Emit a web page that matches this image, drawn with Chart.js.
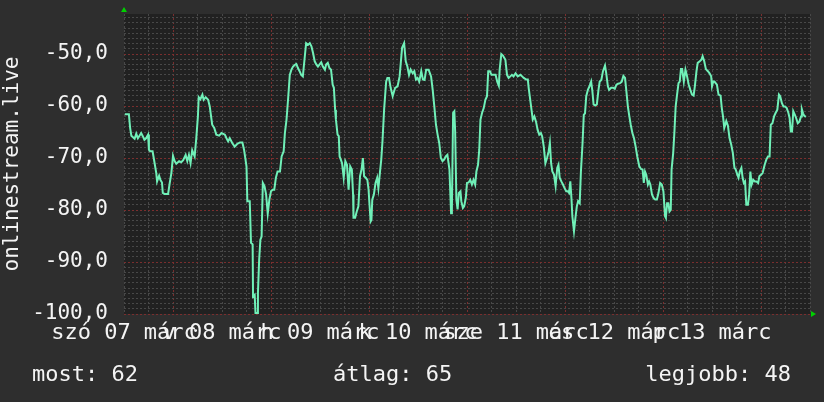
<!DOCTYPE html>
<html>
<head>
<meta charset="utf-8">
<script src="https://cdn.jsdelivr.net/npm/chart.js@4"></script>
<style>
  html, body { margin: 0; padding: 0; background: #2e2e2e; }
  #wrap { position: relative; width: 824px; height: 402px; }
  .stat { position: absolute; top: 363px; font: 22px/22px "DejaVu Sans Mono", monospace; color: #f4f4f4; white-space: pre; }
</style>
</head>
<body>
<div id="wrap">
  <canvas id="signalChart" width="824" height="402"></canvas>
  <div class="stat" id="most" style="left:32px">most: 62</div>
  <div class="stat" id="atlag" style="left:333px">átlag: 65</div>
  <div class="stat" id="legjobb" style="right:33px">legjobb: 48</div>
</div>
<script>
// hours since sat 07 márc 12:00
const hours = [
  0.2, 1.2, 1.5, 1.8, 2.2, 2.6, 3.0, 3.4, 3.8, 4.2, 4.6, 5.0, 5.4, 5.9, 6.1, 6.4, 7.0, 7.5, 7.9, 8.1,
  8.6, 8.9, 9.3, 9.5, 9.9, 10.8, 11.2, 11.6, 12.0, 12.4, 12.8, 13.5, 14.0, 14.5, 15.1, 15.5, 15.9, 16.3, 16.7, 17.3,
  17.7, 18.1, 18.3, 18.7, 19.2, 19.5, 20.0, 20.6, 21.0, 21.6, 22.1, 22.6, 23.3, 23.9, 24.7, 25.1, 25.5, 25.9, 26.5, 27.1,
  27.7, 28.4, 29.0, 29.4, 30.0, 30.2, 30.8, 31.1, 31.5, 31.6, 32.0, 32.2, 32.6, 32.8, 33.1, 33.4, 33.7, 34.0, 34.4, 34.8,
  35.2, 35.6, 36.0, 36.4, 36.8, 37.2, 37.6, 38.2, 38.6, 39.1, 39.4, 39.8, 40.2, 40.6, 41.0, 41.4, 41.8, 42.2, 42.6, 43.0,
  43.4, 43.8, 44.2, 44.6, 45.1, 45.5, 45.9, 46.3, 46.7, 47.1, 47.5, 47.9, 48.3, 48.7, 49.2, 49.5, 49.9, 50.3, 50.7, 51.1,
  51.4, 51.7, 51.9, 52.3, 52.6, 52.8, 53.1, 53.4, 53.8, 54.2, 54.6, 55.0, 55.4, 55.8, 56.1, 56.2, 56.6, 57.0, 57.4, 57.8,
  58.2, 58.5, 58.8, 59.2, 59.6, 59.9, 60.1, 60.4, 60.6, 60.8, 61.2, 61.6, 62.0, 62.3, 62.7, 63.0, 63.3, 63.7, 64.2, 64.5,
  64.9, 65.3, 65.8, 66.4, 67.0, 67.5, 68.1, 68.6, 69.0, 69.4, 69.8, 70.2, 70.7, 71.1, 71.5, 71.9, 72.3, 72.8, 73.2, 73.6,
  74.0, 74.6, 75.2, 75.6, 76.0, 76.4, 76.8, 77.2, 77.6, 78.0, 78.4, 78.8, 79.2, 79.7, 80.1, 80.3, 80.6, 80.9, 81.1, 81.4,
  81.7, 82.0, 82.4, 82.6, 83.0, 83.3, 83.7, 84.0, 84.4, 84.8, 85.2, 85.6, 86.0, 86.3, 86.7, 87.0, 87.3, 87.7, 88.1, 88.5,
  88.9, 89.2, 89.6, 90.0, 90.5, 91.0, 91.4, 91.8, 92.0, 92.4, 92.8, 93.4, 93.8, 94.2, 94.6, 95.0, 95.4, 95.9, 96.4, 97.1,
  97.5, 97.9, 98.5, 98.9, 99.1, 99.4, 99.7, 100.1, 100.5, 100.9, 101.3, 101.7, 102.1, 102.4, 102.8, 103.2, 103.6, 104.0, 104.3, 104.6,
  104.9, 105.3, 105.7, 106.1, 106.4, 106.7, 107.1, 107.5, 107.9, 108.3, 108.7, 109.0, 109.3, 109.6, 109.8, 110.2, 110.6, 110.9, 111.2, 111.6,
  111.9, 112.3, 112.6, 112.9, 113.2, 113.6, 114.0, 114.4, 114.7, 115.0, 115.4, 115.8, 116.2, 116.5, 116.9, 117.3, 117.8, 118.1, 118.5, 118.8,
  119.3, 119.8, 120.2, 120.6, 121.0, 121.5, 121.9, 122.3, 122.7, 123.0, 123.4, 123.7, 124.1, 124.5, 124.9, 125.3, 125.7, 126.2, 126.6, 127.0,
  127.3, 127.6, 127.9, 128.3, 128.6, 128.9, 129.3, 129.7, 130.1, 130.5, 130.9, 131.3, 131.7, 132.1, 132.5, 132.7, 133.0, 133.3, 133.6, 133.9,
  134.1, 134.5, 134.8, 135.1, 135.4, 135.8, 136.1, 136.4, 136.7, 137.1, 137.5, 137.9, 138.3, 138.7, 139.1, 139.5, 139.8, 140.2, 140.5, 141.0,
  141.4, 141.7, 142.1, 142.5, 143.0, 143.4, 143.8, 144.0, 144.3, 144.6, 144.9, 145.2, 145.6, 146.1, 146.4, 146.7, 147.0, 147.5, 147.9, 148.3,
  148.7, 149.1, 149.5, 149.8, 150.2, 150.5, 150.8, 151.2, 151.5, 151.8, 152.1, 152.4, 152.8, 153.1, 153.4, 153.7, 154.1, 154.5, 154.9, 155.3,
  155.6, 156.0, 156.4, 156.9, 157.3, 157.7, 158.1, 158.4, 158.8, 159.2, 159.6, 160.0, 160.4, 160.7, 161.1, 161.5, 161.9, 162.3, 162.7, 163.0,
  163.3, 163.6, 163.9, 164.3, 164.6, 165.0, 165.4, 165.8, 166.0, 166.3, 166.6, 167.0
];
const signal = [
  -61.6, -61.6, -64.2, -65.7, -66.0, -66.3, -65.3, -66.2, -65.7, -65.2, -65.8, -66.5, -66.2, -65.5, -68.4, -68.7, -68.7, -71.0, -72.9, -74.5,
  -73.4, -74.2, -74.7, -76.7, -76.9, -76.9, -74.8, -72.9, -69.6, -70.6, -71.1, -70.6, -70.8, -70.4, -69.4, -70.6, -69.4, -71.0, -68.5, -69.7,
  -66.2, -62.0, -58.3, -58.7, -57.8, -58.8, -58.3, -58.8, -60.1, -63.6, -64.2, -65.5, -65.7, -65.2, -65.5, -66.2, -66.8, -66.2, -67.1, -67.8,
  -67.3, -67.0, -67.0, -68.4, -71.6, -78.3, -78.3, -86.3, -86.6, -96.6, -96.3, -99.8, -99.8, -96.0, -89.6, -85.7, -85.1, -74.8, -75.4, -77.0,
  -80.7, -78.0, -76.4, -76.1, -76.1, -73.8, -72.6, -72.6, -69.7, -68.7, -65.2, -62.6, -58.5, -54.0, -53.0, -52.4, -52.1, -51.9, -52.7, -53.3,
  -54.0, -54.3, -51.1, -47.9, -48.2, -47.9, -48.5, -49.8, -51.4, -52.0, -52.4, -52.0, -51.6, -52.4, -53.0, -52.0, -51.7, -52.7, -53.0, -55.9,
  -56.5, -60.7, -62.6, -65.5, -65.8, -69.7, -70.3, -71.0, -73.8, -70.6, -71.3, -76.1, -71.6, -72.2, -77.0, -81.5, -81.5, -80.3, -79.3, -73.5,
  -72.1, -70.0, -73.5, -73.8, -74.2, -76.1, -78.7, -82.2, -81.9, -78.0, -77.0, -74.8, -73.8, -75.8, -72.6, -70.3, -66.8, -60.7, -55.3, -54.6,
  -54.6, -56.5, -58.1, -56.5, -56.2, -54.3, -48.8, -47.9, -51.4, -52.4, -54.0, -53.0, -53.7, -53.3, -54.9, -54.6, -55.3, -53.3, -54.9, -55.0,
  -53.0, -53.0, -54.3, -56.9, -60.1, -63.6, -65.5, -67.1, -70.0, -70.6, -70.3, -69.7, -69.4, -72.2, -80.6, -79.9, -61.3, -61.0, -64.9, -78.0,
  -79.9, -76.7, -76.4, -78.3, -79.6, -79.3, -77.7, -74.8, -74.7, -74.2, -75.1, -74.2, -75.1, -72.6, -71.3, -68.4, -62.6, -61.3, -60.4, -58.8,
  -58.1, -53.3, -53.3, -54.0, -54.0, -54.0, -55.3, -56.1, -53.0, -50.0, -50.3, -51.1, -54.0, -54.6, -54.3, -54.0, -54.3, -53.7, -54.3, -54.0,
  -54.3, -54.6, -54.9, -54.9, -56.5, -58.3, -60.1, -62.6, -62.0, -63.0, -64.6, -65.5, -65.2, -65.8, -67.8, -71.0, -70.0, -68.7, -67.1, -71.0,
  -72.6, -73.2, -75.4, -71.9, -71.3, -73.8, -74.5, -75.1, -75.8, -76.4, -76.4, -76.7, -74.5, -78.0, -81.2, -84.1, -81.2, -79.3, -78.3, -78.7,
  -72.6, -67.1, -61.7, -61.4, -58.1, -56.9, -56.2, -55.3, -57.1, -59.7, -59.9, -59.7, -56.9, -55.3, -55.0, -53.3, -52.2, -53.7, -56.2, -56.9,
  -56.5, -56.5, -56.7, -55.9, -55.7, -55.6, -55.3, -54.2, -54.6, -56.9, -60.1, -61.7, -63.6, -65.2, -66.2, -67.8, -69.7, -71.6, -72.1, -72.2,
  -74.8, -72.6, -73.2, -75.1, -74.5, -75.1, -77.0, -77.7, -78.0, -78.0, -76.7, -74.8, -75.1, -76.4, -81.2, -81.5, -78.7, -78.7, -80.3, -80.0,
  -72.2, -69.0, -64.9, -60.1, -58.1, -55.6, -55.3, -52.9, -52.9, -55.3, -53.0, -54.3, -55.9, -56.9, -57.8, -58.0, -56.2, -53.3, -51.7, -51.4,
  -51.1, -50.4, -51.4, -52.9, -53.3, -53.7, -54.3, -56.2, -55.3, -55.3, -55.6, -55.9, -57.8, -58.0, -60.4, -62.0, -64.2, -62.9, -63.8, -66.2,
  -67.4, -69.0, -71.9, -72.2, -73.2, -73.8, -72.6, -71.9, -73.8, -74.8, -74.5, -79.0, -79.0, -77.0, -72.6, -75.1, -74.2, -74.5, -74.5, -74.8,
  -73.5, -73.2, -72.9, -71.3, -70.3, -69.7, -69.7, -63.6, -63.3, -62.0, -61.3, -60.7, -57.8, -58.1, -59.4, -60.1, -60.1, -60.4, -61.3, -62.3,
  -64.9, -64.9, -61.0, -61.7, -62.3, -63.3, -63.0, -62.0, -60.6, -61.4, -61.9, -62.1
];
const dayLabels = ['szó 07 márc', 'v 08 márc', 'h 09 márc', 'k 10 márc', 'sze 11 márc', 'cs 12 márc', 'p 13 márc'];
const yMajor = [-100, -90, -80, -70, -60, -50];

const MONO = "'DejaVu Sans Mono', monospace";
const RED = '#7a2e2e';
const GREY = '#484848';

const rrdLook = {
  id: 'rrdLook',
  beforeDraw(chart) {
    const c = chart.ctx, a = chart.chartArea;
    c.save();
    c.fillStyle = '#2e2e2e';
    c.fillRect(0, 0, chart.width, chart.height);
    c.fillStyle = '#212121';
    c.fillRect(a.left, a.top, a.right - a.left, a.bottom - a.top);
    c.restore();
  },
  afterDraw(chart) {
    const c = chart.ctx, a = chart.chartArea;
    c.save();
    c.fillStyle = '#00d000';
    // arrow on top of the y axis
    c.beginPath();
    c.moveTo(a.left - 3, a.top - 2);
    c.lineTo(a.left + 3, a.top - 2);
    c.lineTo(a.left, a.top - 7);
    c.fill();
    // arrow at the end of the x axis
    c.beginPath();
    c.moveTo(a.right + 1, a.bottom - 3);
    c.lineTo(a.right + 1, a.bottom + 3);
    c.lineTo(a.right + 6, a.bottom);
    c.fill();
    c.restore();
  }
};

const ctx = document.getElementById('signalChart').getContext('2d');
const signalChart = new Chart(ctx, {
  type: 'line',
  data: {
    datasets: [{
      data: hours.map((h, i) => ({ x: h, y: signal[i] })),
      borderColor: '#70f0b8',
      borderWidth: 2,
      pointRadius: 0,
      tension: 0,
      fill: false
    }]
  },
  options: {
    responsive: false,
    animation: false,
    devicePixelRatio: 1,
    layout: { padding: { top: 14, right: 14, left: 0, bottom: 0 } },
    plugins: { legend: { display: false }, tooltip: { enabled: false } },
    scales: {
      x: {
        type: 'linear',
        min: 0,
        max: 168,
        afterBuildTicks: scale => {
          const t = [];
          for (let h = 0; h <= 168; h += 6) t.push({ value: h });
          scale.ticks = t;
        },
        afterFit: scale => {
          scale.height = 88;
          scale.paddingLeft = 0;
          scale.paddingRight = 0;
        },
        grid: {
          drawTicks: false,
          lineWidth: 1,
          color: c => ((c.tick.value - 12) % 24 === 0 ? RED : GREY)
        },
        border: { display: false, dash: [2, 2] },
        ticks: {
          autoSkip: false,
          maxRotation: 0,
          minRotation: 0,
          padding: 6,
          color: '#f4f4f4',
          font: { family: MONO, size: 22 },
          callback: v => (v % 24 === 0 && v < 168 ? dayLabels[v / 24] : '')
        }
      },
      y: {
        min: -100,
        max: -42.3,
        afterBuildTicks: scale => {
          const t = [];
          for (let v = -100; v <= -43; v++) t.push({ value: v });
          scale.ticks = t;
        },
        afterFit: scale => {
          scale.width = 124;
          scale.paddingTop = 0;
          scale.paddingBottom = 0;
        },
        grid: {
          drawTicks: false,
          lineWidth: 1,
          color: c => (c.tick.value % 10 === 0 ? RED : GREY)
        },
        border: { display: false, dash: [2, 2] },
        title: {
          display: true,
          text: 'onlinestream.live',
          color: '#f4f4f4',
          font: { family: MONO, size: 21 },
          padding: { top: 0, bottom: 0 }
        },
        ticks: {
          autoSkip: false,
          padding: 16,
          color: '#f4f4f4',
          font: { family: MONO, size: 21 },
          callback: v => (yMajor.includes(v) ? v.toFixed(1).replace('.', ',') : '')
        }
      }
    }
  },
  plugins: [rrdLook]
});
</script>
</body>
</html>
